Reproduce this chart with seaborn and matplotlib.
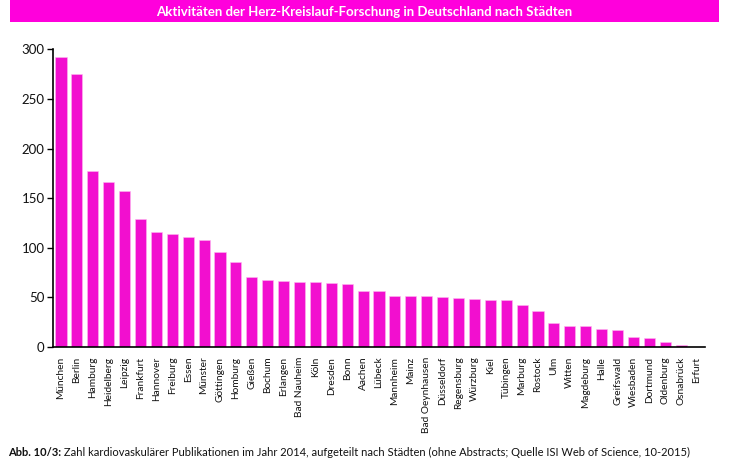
import matplotlib
matplotlib.use("Agg")
import matplotlib.pyplot as plt
import seaborn as sns
import pandas as pd
from matplotlib.patches import Rectangle

cities = ["München", "Berlin", "Hamburg", "Heidelberg", "Leipzig", "Frankfurt",
          "Hannover", "Freiburg", "Essen", "Münster", "Göttingen", "Homburg",
          "Gießen", "Bochum", "Erlangen", "Bad Nauheim", "Köln", "Dresden", "Bonn",
          "Aachen", "Lübeck", "Mannheim", "Mainz", "Bad Oeynhausen", "Düsseldorf",
          "Regensburg", "Würzburg", "Kiel", "Tübingen", "Marburg", "Rostock", "Ulm",
          "Witten", "Magdeburg", "Halle", "Greifswald", "Wiesbaden", "Dortmund",
          "Oldenburg", "Osnabrück", "Erfurt"]
publications = [292, 275, 177, 166, 157, 129, 116, 114, 111, 108, 96, 86,
                71, 68, 67, 65, 65, 64, 63, 56, 56, 51, 51, 51, 50,
                49, 48, 47, 47, 42, 36, 24, 21, 21, 18, 17, 10, 9, 5, 2, 0]
y_ticks = [0, 50, 100, 150, 200, 250, 300]

title = "Aktivitäten der Herz-Kreislauf-Forschung in Deutschland nach Städten"
caption_bold = "Abb. 10/3:"
caption_rest = " Zahl kardiovaskulärer Publikationen im Jahr 2014, aufgeteilt nach Städten (ohne Abstracts; Quelle ISI Web of Science, 10-2015)"

sns.set_theme(style="white")
FONT = ["Lato", "DejaVu Sans"]
plt.rcParams["font.family"] = FONT

MAGENTA = "#F20FCF"
BANNER = "#FF00DC"

df = pd.DataFrame({"city": cities, "n": publications})

fig = plt.figure(figsize=(7.29, 4.66), dpi=100)
ax = fig.add_axes([53 / 729, 1 - 347 / 466, (705 - 53) / 729, (347 - 49.3) / 466])

sns.barplot(data=df, x="city", y="n", color=MAGENTA, saturation=1, width=0.7,
            edgecolor="#FFB8F0", linewidth=0.4, ax=ax)

ax.set_xlim(-0.5, len(cities) - 0.5)
ax.set_ylim(0, 300)
ax.set_yticks(y_ticks)
ax.set_xlabel("")
ax.set_ylabel("")

for s in ["top", "right"]:
    ax.spines[s].set_visible(False)
for s in ["left", "bottom"]:
    ax.spines[s].set_color("black")
    ax.spines[s].set_linewidth(1.2)

ax.tick_params(axis="x", which="major", length=0, pad=7)
ax.set_xticks([i + 0.5 for i in range(len(cities))], minor=True)
ax.tick_params(axis="x", which="minor", direction="in", length=5.5, width=1.4, color="black")
ax.tick_params(axis="y", which="major", direction="out", length=4, width=1.0,
               color="black", pad=2, left=True)
for lab in ax.get_xticklabels():
    lab.set_rotation(90)
    lab.set_fontsize(7.3)
    lab.set_color("#111111")
    lab.set_ha("center")
for lab in ax.get_yticklabels():
    lab.set_fontsize(9.5)
    lab.set_color("#111111")

# banner
fig.patches.append(Rectangle((10 / 729, 1 - 22 / 466), 709 / 729, 22 / 466,
                             transform=fig.transFigure, facecolor=BANNER,
                             edgecolor="none", zorder=0))
tt = fig.text(0.5, 1 - 11.5 / 466, title, ha="center", va="center", color="white",
              fontsize=9, fontweight="bold")

t1 = fig.text(8 / 729, 1 - 452 / 466, caption_bold, ha="left", va="center",
              fontsize=8, fontweight="bold", color="#111111")
t2 = fig.text(0.2, 1 - 452 / 466, caption_rest, ha="left", va="center",
              fontsize=8, color="#111111")

# fit text widths to the reference
fig.canvas.draw()
r = fig.canvas.get_renderer()
w = tt.get_window_extent(r).width
tt.set_fontsize(9 * 419 / w)
w_total = t1.get_window_extent(r).width + t2.get_window_extent(r).width
scale = 682 / w_total
t1.set_fontsize(8 * scale)
t2.set_fontsize(8 * scale)
fig.canvas.draw()
bb = t1.get_window_extent(r)
t2.set_x(bb.x1 / fig.bbox.width)

fig.savefig("out.png", dpi=100)
